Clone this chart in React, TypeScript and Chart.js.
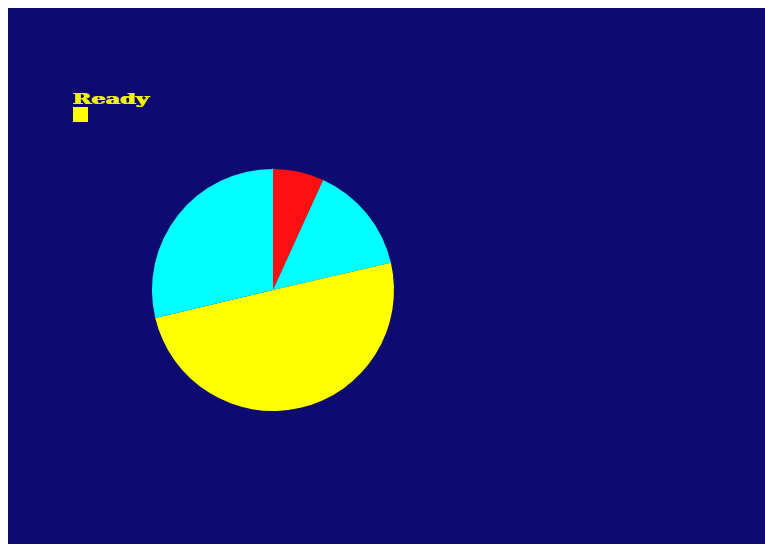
import React, { useEffect, useRef } from "react";
import { Chart, registerables } from "chart.js";

Chart.register(...registerables);

// Slice values (percent of the whole), drawn clockwise from 12 o'clock
const sliceLabels: string[] = ["A", "B", "C", "D"];
const sliceValues: number[] = [6.8, 14.6, 49.9, 28.7];
const sliceColors: string[] = ["#ff0f0f", "#00ffff", "#ffff00", "#00ffff"];

const promptText = "Ready";
const bgColor = "#0d0b72";

export default function App() {
  const canvasRef = useRef<HTMLCanvasElement | null>(null);

  useEffect(() => {
    if (!canvasRef.current) return;
    const chart = new Chart(canvasRef.current, {
      type: "pie",
      data: {
        labels: sliceLabels,
        datasets: [
          {
            data: sliceValues,
            backgroundColor: sliceColors,
            borderWidth: 0,
          },
        ],
      },
      options: {
        animation: false,
        responsive: true,
        maintainAspectRatio: false,
        layout: { padding: { left: 144, top: 161, right: 371, bottom: 133 } },
        plugins: {
          legend: { display: false },
          tooltip: { enabled: false },
          title: { display: false },
        },
      },
    });
    return () => chart.destroy();
  }, []);

  return (
    <div
      style={{
        position: "fixed",
        left: 8,
        top: 8,
        right: 0,
        bottom: 0,
        background: bgColor,
        overflow: "hidden",
      }}
    >
      <canvas ref={canvasRef} />
      <div
        style={{
          position: "fixed",
          left: 72,
          top: 92,
          fontFamily: "'DejaVu Serif', serif",
          fontWeight: "bold",
          fontSize: 15,
          lineHeight: "15px",
          color: "#f2f20a",
          textShadow: "1px 0 0 #f2f20a",
          transform: "scaleX(1.5)",
          transformOrigin: "left top",
          whiteSpace: "nowrap",
        }}
      >
        {promptText}
      </div>
      <div
        style={{
          position: "fixed",
          left: 73,
          top: 107,
          width: 15,
          height: 15,
          background: "#ffff00",
        }}
      />
    </div>
  );
}
